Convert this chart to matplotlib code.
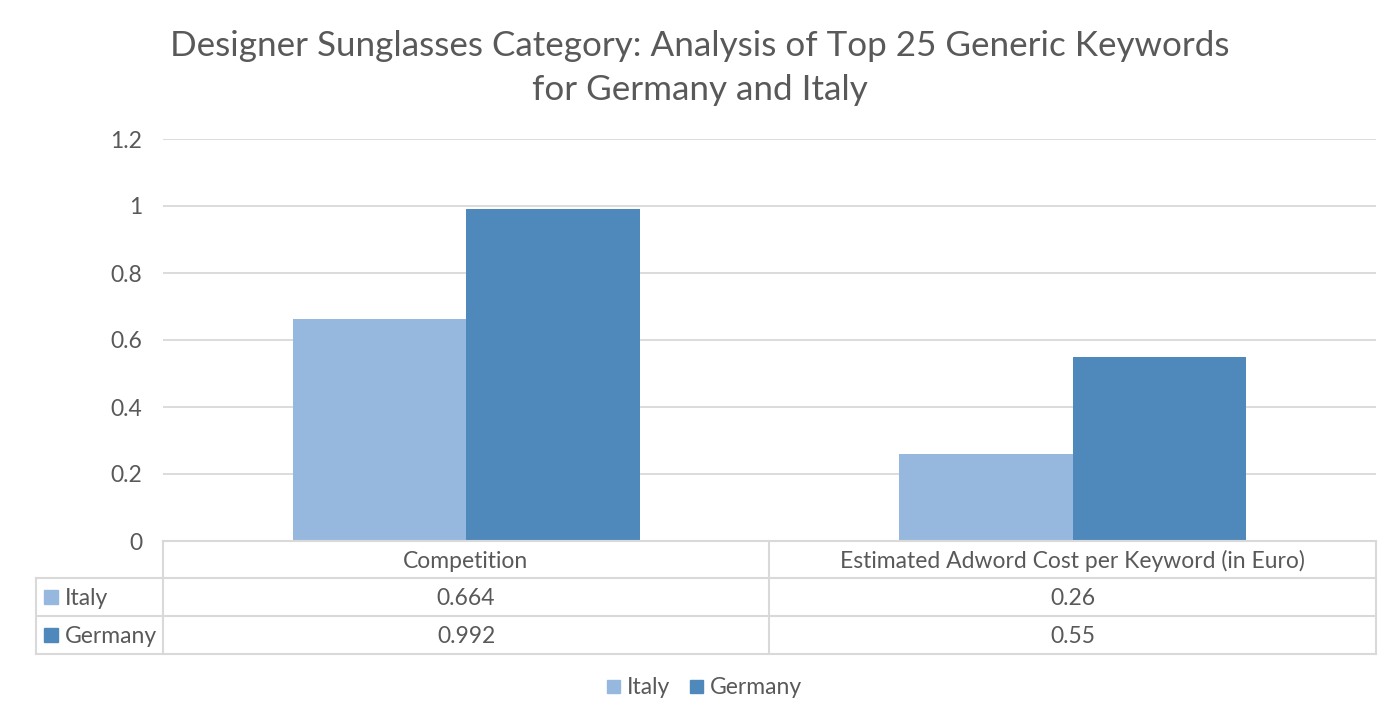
import matplotlib.pyplot as plt
from matplotlib.lines import Line2D
from matplotlib.patches import Rectangle
import numpy as np

plt.rcParams['font.family'] = ['Lato', 'DejaVu Sans']

TITLE_1 = "Designer Sunglasses Category: Analysis of Top 25 Generic Keywords"
TITLE_2 = "for Germany and Italy"
categories = ["Competition", "Estimated Adword Cost per Keyword (in Euro)"]
series_names = ["Italy", "Germany"]
italy = [0.664, 0.26]
germany = [0.992, 0.55]
value_labels = [["0.664", "0.26"], ["0.992", "0.55"]]
colors = ["#97B8DE", "#4F89BC"]
TEXT = "#595959"
GRID = "#D9D9D9"

W, H = 1400, 720
fig = plt.figure(figsize=(14, 7.2), dpi=100)

def fx(px):
    return px / W

def fy(py):
    return 1 - py / H

left, right, top, bottom = 163, 1376, 139, 541
ax = fig.add_axes([fx(left), fy(bottom), fx(right) - fx(left), fy(top) - fy(bottom)])

x = np.arange(len(categories)) + 0.5
bw = 0.286
ax.bar(x - bw / 2, italy, bw, color=colors[0], zorder=2)
ax.bar(x + bw / 2, germany, bw, color=colors[1], zorder=2)

ax.set_xlim(0, len(categories))
ax.set_ylim(0, 1.2)
ax.set_yticks([0, 0.2, 0.4, 0.6, 0.8, 1, 1.2])
ax.set_yticklabels(["0", "0.2", "0.4", "0.6", "0.8", "1", "1.2"])
ax.yaxis.grid(True, color=GRID, linewidth=1.3, zorder=0)
ax.set_xticks([])
ax.tick_params(axis='y', length=0, pad=15, labelsize=16.5, labelcolor=TEXT)
for s in ax.spines.values():
    s.set_visible(False)

fig.text(0.5, fy(46), TITLE_1, ha='center', va='center', fontsize=25.2, color=TEXT)
fig.text(0.5, fy(90), TITLE_2, ha='center', va='center', fontsize=25.2, color=TEXT)

# data table below the plot
row_y = [541, 578, 616, 654]
col_x = [36, 163, 769, 1376]

def hline(y, x0, x1):
    fig.add_artist(Line2D([fx(x0), fx(x1)], [fy(y), fy(y)], color=GRID, lw=1.5))

def vline(xp, y0, y1):
    fig.add_artist(Line2D([fx(xp), fx(xp)], [fy(y0), fy(y1)], color=GRID, lw=1.5))

hline(row_y[0], col_x[1], col_x[3])
for y in row_y[1:]:
    hline(y, col_x[0], col_x[3])
vline(col_x[0], row_y[1], row_y[3])
for xp in col_x[1:]:
    vline(xp, row_y[0], row_y[3])

for i, cat in enumerate(categories):
    cx = (col_x[i + 1] + col_x[i + 2]) / 2
    fig.text(fx(cx), fy((row_y[0] + row_y[1]) / 2 + 1.5), cat, ha='center', va='center',
             fontsize=16.5, color=TEXT)
    for r in range(len(series_names)):
        fig.text(fx(cx), fy((row_y[r + 1] + row_y[r + 2]) / 2 + 1.5), value_labels[r][i],
                 ha='center', va='center', fontsize=16.5, color=TEXT)

for r, name in enumerate(series_names):
    yc = (row_y[r + 1] + row_y[r + 2]) / 2
    fig.add_artist(Rectangle((fx(44), fy(yc + 7)), fx(14), 14 / H, color=colors[r]))
    fig.text(fx(65), fy(yc + 1.5), name, ha='left', va='center', fontsize=16.5, color=TEXT)

# legend at the bottom
leg_items = [(607, series_names[0]), (690, series_names[1])]
for (lx, name), c in zip(leg_items, colors):
    fig.add_artist(Rectangle((fx(lx), fy(693)), fx(13), 13 / H, color=c))
    fig.text(fx(lx + 20), fy(687), name, ha='left', va='center', fontsize=16.5, color=TEXT)

fig.savefig("out.png", dpi=100)
